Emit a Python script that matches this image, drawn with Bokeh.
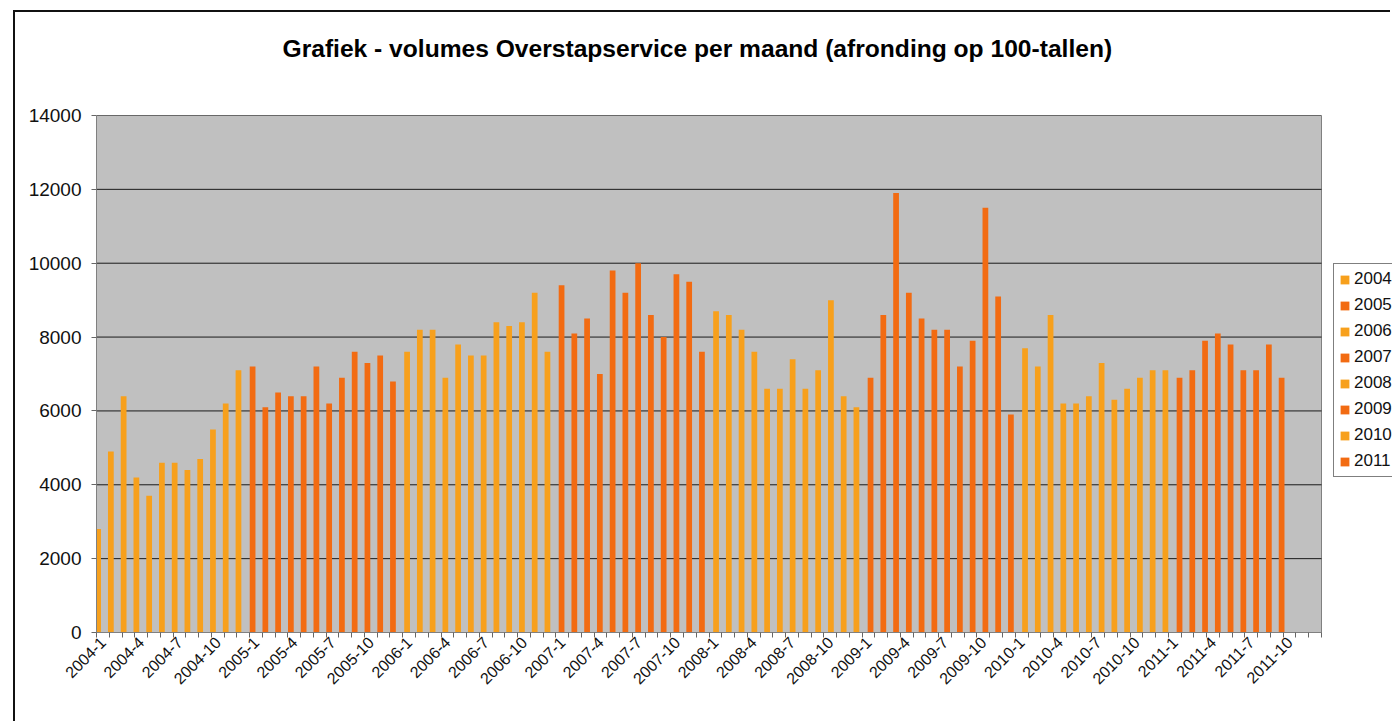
import math
from bokeh.plotting import figure
from bokeh.models import Range1d, FixedTicker, Legend, LegendItem, Title
from bokeh.embed import file_html
from bokeh.resources import INLINE

years = [2004, 2005, 2006, 2007, 2008, 2009, 2010, 2011]
months = list(range(1, 13))

v2004 = [2800, 4900, 6400, 4200, 3700, 4600, 4600, 4400, 4700, 5500, 6200, 7100]
v2005 = [7200, 6100, 6500, 6400, 6400, 7200, 6200, 6900, 7600, 7300, 7500, 6800]
v2006 = [7600, 8200, 8200, 6900, 7800, 7500, 7500, 8400, 8300, 8400, 9200, 7600]
v2007 = [9400, 8100, 8500, 7000, 9800, 9200, 10000, 8600, 8000, 9700, 9500, 7600]
v2008 = [8700, 8600, 8200, 7600, 6600, 6600, 7400, 6600, 7100, 9000, 6400, 6100]
v2009 = [6900, 8600, 11900, 9200, 8500, 8200, 8200, 7200, 7900, 11500, 9100, 5900]
v2010 = [7700, 7200, 8600, 6200, 6200, 6400, 7300, 6300, 6600, 6900, 7100, 7100]
v2011 = [6900, 7100, 7900, 8100, 7800, 7100, 7100, 7800, 6900]

series = [v2004, v2005, v2006, v2007, v2008, v2009, v2010, v2011]
colors = ["#F7A01C", "#F26B12", "#F7A01C", "#F26B12",
          "#F7A01C", "#F26B12", "#F7A01C", "#F26B12"]

title_text = "Grafiek - volumes Overstapservice per maand (afronding op 100-tallen)"
month_labels = [f"{y}-{m}" for y in years for m in months]
y_ticks = [0, 2000, 4000, 6000, 8000, 10000, 12000, 14000]
y_max = 14000

n_cat = len(month_labels)
FONT = "Liberation Sans"

# layout (pixels)
W, H = 1377, 711
left_px, top_px, bottom_px = 81, 103, 91
area_px = 1225                       # width of the grey plotting area
frame_px = W - left_px               # frame runs to the right edge of the canvas
x_end = n_cat * frame_px / area_px

p = figure(width=W, height=H, output_backend="svg", toolbar_location=None,
           x_range=Range1d(0, x_end), y_range=Range1d(0, y_max),
           min_border_left=left_px, min_border_right=0, min_border_top=top_px,
           min_border_bottom=bottom_px)
p.margin = (10, 0, 0, 13)
p.styles = {"border-left": "2px solid #111", "border-top": "2px solid #111"}

p.background_fill_color = "white"
p.border_fill_color = "white"
p.outline_line_color = None

# grey plotting area with its border, and the horizontal grid lines
p.quad(left=[0], right=[n_cat], bottom=[0], top=[y_max],
       fill_color="#C0C0C0", line_color="#808080", line_width=1)
p.segment(x0=[0] * len(y_ticks), x1=[n_cat] * len(y_ticks), y0=y_ticks, y1=y_ticks,
          line_color="#1a1a1a", line_width=1)

# title: a blank spacer panel next to the frame, then the real title above it
p.title.text = ""
spacer = Title(text=" ", text_font_size="10px", standoff=36, text_color="white")
p.add_layout(spacer, "above")
main_title = Title(text=title_text, align="left", offset=186, standoff=10,
                   text_font=FONT, text_font_style="bold",
                   text_font_size="24.6px", text_color="#000000")
p.add_layout(main_title, "above")

renderers = []
for k, (yr, vals) in enumerate(zip(years, series)):
    start = k * 12
    xs = [start + i + 0.5 + (k - 3.5) * 0.107 for i in range(len(vals))]
    r = p.vbar(x=xs, top=vals, bottom=0, width=0.45,
               fill_color=colors[k], line_color=None)
    renderers.append((str(yr), r))

# x axis
label_pos = [i + 0.5 for i in range(0, n_cat, 3)]
p.xaxis.ticker = FixedTicker(ticks=label_pos, minor_ticks=list(range(0, n_cat + 1)))
p.xaxis.major_label_overrides = {i + 0.5: month_labels[i] for i in range(0, n_cat, 3)}
p.xaxis.bounds = (0, n_cat)
p.xaxis.major_label_orientation = math.pi / 4
p.xaxis.major_tick_out = 0
p.xaxis.major_tick_in = 0
p.xaxis.minor_tick_out = 5
p.xaxis.minor_tick_in = 0
p.xaxis.minor_tick_line_color = "#666666"
p.xaxis.axis_line_color = "#808080"
p.xaxis.major_label_standoff = 2
p.xaxis.major_label_text_font = FONT
p.xaxis.major_label_text_font_size = "16px"
p.xaxis.major_label_text_color = "#111111"
p.xgrid.visible = False
p.ygrid.visible = False

# y axis
p.yaxis.ticker = FixedTicker(ticks=y_ticks)
p.yaxis.major_tick_out = 5
p.yaxis.major_tick_in = 0
p.yaxis.minor_tick_line_color = None
p.yaxis.major_tick_line_color = "#666666"
p.yaxis.axis_line_color = "#808080"
p.yaxis.major_label_standoff = 10
p.yaxis.major_label_text_font = FONT
p.yaxis.major_label_text_font_size = "19px"
p.yaxis.major_label_text_color = "#111111"

legend = Legend(items=[LegendItem(label=lab, renderers=[r]) for lab, r in renderers],
                location=(1237, 155))
legend.label_text_font = FONT
legend.label_text_font_size = "17px"
legend.label_text_color = "#111111"
legend.glyph_width = 11
legend.glyph_height = 11
legend.label_height = 20
legend.label_standoff = 4
legend.spacing = 6
legend.padding = 5
legend.margin = 0
legend.border_line_color = "#000000"
legend.border_line_width = 1
legend.background_fill_color = "white"
legend.background_fill_alpha = 1
p.add_layout(legend)

open("out.html", "w").write(file_html(p, INLINE))
